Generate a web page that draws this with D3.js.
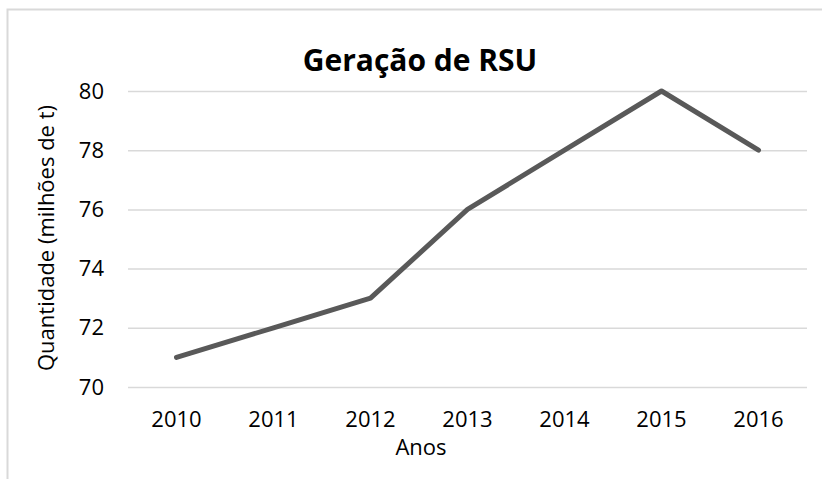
<!DOCTYPE html>
<html>
<head>
<meta charset="utf-8">
<script src="https://cdn.jsdelivr.net/npm/d3@7"></script>
<style>
  body { margin: 0; background: #fff; }
  svg { display: block; font-family: "Open Sans", sans-serif; }
</style>
</head>
<body>
<svg id="svg" width="822" height="479"></svg>
<script>
var years = ['2010', '2011', '2012', '2013', '2014', '2015', '2016'];
var values = [71, 72, 73, 76, 78, 80, 78];
var yTicks = [70, 72, 74, 76, 78, 80];
var title = 'Geração de RSU';
var xTitle = 'Anos';
var yTitle = 'Quantidade (milhões de t)';

var svg = d3.select('#svg'),
    plot = { left: 128, right: 807, top: 91, bottom: 387 },
    fontSize = 22,
    lineColor = '#595959',
    gridColor = '#d9d9d9';

// рамка диаграммы (уходит за край картинки)
svg.append('rect')
  .attr('x', 7.5).attr('y', 9.5)
  .attr('width', 900).attr('height', 600)
  .attr('fill', 'white')
  .attr('stroke', gridColor)
  .attr('stroke-width', 2);

var x = d3.scaleBand().domain(years).range([plot.left, plot.right]).padding(0);
var y = d3.scaleLinear().domain([70, 80]).range([plot.bottom, plot.top]);

// === Grid + y ticks
var yAxis = svg.append('g')
  .attr('transform', 'translate(' + plot.left + ',0)')
  .call(d3.axisLeft(y).tickValues(yTicks).tickSize(-(plot.right - plot.left)).tickPadding(24));

yAxis.select('.domain').remove();
yAxis.selectAll('line').attr('stroke', gridColor).attr('stroke-width', 1.5);
yAxis.selectAll('text')
  .attr('fill', '#000')
  .attr('font-size', fontSize)
  .attr('font-family', '"Open Sans", sans-serif');

// === X ticks
var xAxis = svg.append('g')
  .attr('transform', 'translate(0,' + plot.bottom + ')')
  .call(d3.axisBottom(x).tickSize(0).tickPadding(24));

xAxis.select('.domain').remove();
xAxis.selectAll('text')
  .attr('fill', '#000')
  .attr('font-size', fontSize)
  .attr('font-family', '"Open Sans", sans-serif');

// === Line
var line = d3.line()
  .x(function (d, i) { return x(years[i]) + x.bandwidth() / 2; })
  .y(function (d) { return y(d); });

svg.append('path')
  .datum(values)
  .attr('d', line)
  .attr('fill', 'none')
  .attr('stroke', lineColor)
  .attr('stroke-width', 5)
  .attr('stroke-linecap', 'round')
  .attr('stroke-linejoin', 'round');

// === Titles
svg.append('text')
  .attr('x', 420).attr('y', 71)
  .attr('text-anchor', 'middle')
  .attr('font-size', 30)
  .attr('font-weight', 'bold')
  .text(title);

svg.append('text')
  .attr('x', 421).attr('y', 455)
  .attr('text-anchor', 'middle')
  .attr('font-size', fontSize)
  .text(xTitle);

svg.append('text')
  .attr('transform', 'translate(54,238) rotate(-90)')
  .attr('text-anchor', 'middle')
  .attr('font-size', fontSize)
  .text(yTitle);
</script>
</body>
</html>
